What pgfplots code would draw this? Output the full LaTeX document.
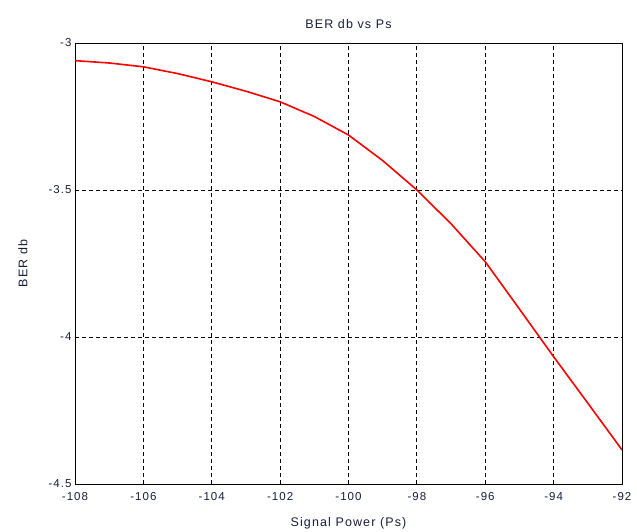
\documentclass[border=0pt]{standalone}
\usepackage{fontspec}
\setmainfont{Liberation Sans}[LetterSpace=9]
\usepackage{pgfplots}
\pgfplotsset{compat=1.18}
\definecolor{txt}{RGB}{25,30,60}
\begin{document}
\begin{tikzpicture}
\begin{axis}[
  name=ax,
  scale only axis,
  width=547pt, height=441pt,
  xmin=-108, xmax=-92, ymin=-4.5, ymax=-3,
  xtick={-108,-106,...,-92},
  ytick={-4.5,-4,-3.5,-3},
  grid=major,
  major grid style={black, dash pattern=on 4pt off 3pt, line width=0.8pt},
  axis line style={black, line width=0.9pt},
  tick style={draw=none},
  /pgf/number format/assume math mode=true,
  ticklabel style={font=\fontsize{11.5}{12}\selectfont, text=txt},
  xticklabel style={yshift=-5pt},
  title={BER db vs Ps},
  title style={font=\fontsize{12.5}{13}\selectfont, text=txt, at={(axis description cs:0.5,1)}, anchor=center, yshift=13pt},
  xlabel={Signal Power (Ps)},
  ylabel={BER db},
  label style={font=\fontsize{12.5}{13}\selectfont, text=txt},
  xlabel style={at={(axis description cs:0.5,0)}, anchor=center, yshift=-39pt},
  ylabel style={at={([xshift=-52pt]axis description cs:0,0.5)}, anchor=center},
  yticklabel style={/pgf/number format/fixed},
]
\addplot[red, line width=1.6pt] coordinates {
(-108,-3.060) (-107,-3.068) (-106,-3.081) (-105,-3.104) (-104,-3.132)
(-103,-3.164) (-102,-3.200) (-101,-3.250) (-100,-3.313) (-99,-3.400)
(-98,-3.500) (-97,-3.615) (-96,-3.744) (-95,-3.905) (-94,-4.067)
(-93,-4.225) (-92,-4.384)
};
\end{axis}
\pgfresetboundingbox
\path ([shift={(-75pt,-48pt)}]ax.south west) rectangle ([shift={(15pt,43pt)}]ax.north east);
\end{tikzpicture}
\end{document}
